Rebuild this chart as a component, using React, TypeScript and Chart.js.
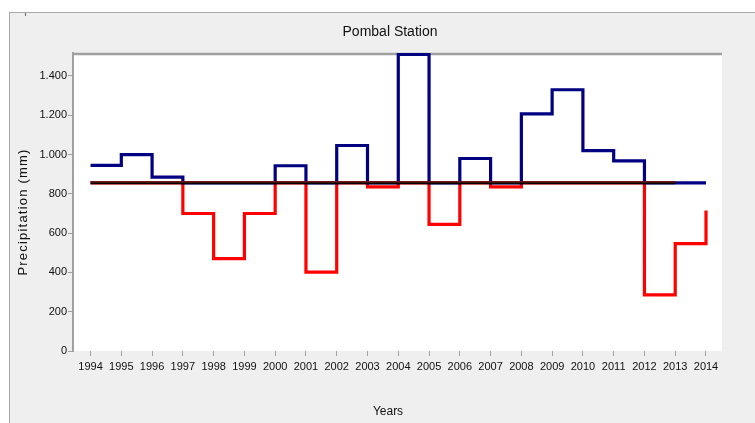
import React, { useEffect, useRef } from "react";
import { Chart, registerables } from "chart.js";

Chart.register(...registerables);

const years = [1994, 1995, 1996, 1997, 1998, 1999, 2000, 2001, 2002, 2003, 2004, 2005, 2006, 2007, 2008, 2009, 2010, 2011, 2012, 2013, 2014];
// portion of annual precipitation above the mean (blue)
const aboveMean = [945, 1000, 885, 856, 856, 856, 943, 856, 1046, 856, 1510, 856, 980, 856, 1207, 1330, 1020, 968, 856, 856, 856];
// portion of annual precipitation below the mean (red)
const belowMean = [856, 856, 856, 700, 470, 700, 856, 402, 856, 836, 856, 645, 856, 836, 856, 856, 856, 856, 286, 547, 715];
const meanYears = [1994, 2013];
const meanValues = [856, 856];
const meanRefValues = [861, 861];
const yTicks = [0, 200, 400, 600, 800, 1000, 1200, 1400];

const TITLE = "Pombal Station";
const Y_TITLE = "Precipitation (mm)";
const X_TITLE = "Years";

const fmt = (v: number) => {
  if (v >= 1000) {
    const th = Math.floor(v / 1000);
    const rest = String(v % 1000).padStart(3, "0");
    return `${th}.${rest}`;
  }
  return String(v);
};

const decor = {
  id: "decor",
  beforeDraw(chart: any) {
    const { ctx, chartArea } = chart;
    ctx.save();
    ctx.fillStyle = "#ffffff";
    ctx.fillRect(chartArea.left, chartArea.top, chartArea.right - chartArea.left, chartArea.bottom - chartArea.top);
    ctx.restore();
  },
  beforeDatasetsDraw(chart: any) {
    const { ctx, chartArea } = chart;
    ctx.save();
    ctx.strokeStyle = "#a0a0a0";
    ctx.lineWidth = 2.5;
    ctx.beginPath();
    ctx.moveTo(chartArea.left, chartArea.top + 1);
    ctx.lineTo(chartArea.right, chartArea.top + 1);
    ctx.stroke();
    ctx.restore();
  },
  afterDraw(chart: any) {
    const { ctx } = chart;
    ctx.save();
    ctx.fillStyle = "#111111";
    ctx.textAlign = "center";
    ctx.textBaseline = "middle";
    ctx.font = '14px "Liberation Sans", Arial, sans-serif';
    ctx.fillText(TITLE, 390, 32);
    ctx.font = '12px "Liberation Sans", Arial, sans-serif';
    ctx.fillText(X_TITLE, 388, 412);
    ctx.translate(23, 212);
    ctx.rotate(-Math.PI / 2);
    ctx.font = '13px "Liberation Sans", Arial, sans-serif';
    try {
      (ctx as any).letterSpacing = "1.2px";
    } catch (e) {}
    ctx.fillText(Y_TITLE, 0, 0);
    ctx.restore();
  },
};

export default function App() {
  const ref = useRef<HTMLCanvasElement | null>(null);

  useEffect(() => {
    if (!ref.current) return;
    const pts = (xs: number[], ys: number[]) => xs.map((x, i) => ({ x, y: ys[i] }));
    const chart = new Chart(ref.current, {
      type: "line",
      data: {
        datasets: [
          {
            label: "Mean (ref)",
            data: pts(meanYears, meanRefValues),
            borderColor: "#8b1a1a",
            borderWidth: 1.2,
            pointRadius: 0,
          },
          {
            label: "Mean",
            data: pts(meanYears, meanValues),
            borderColor: "#000000",
            borderWidth: 3,
            pointRadius: 0,
          },
          {
            label: "Above mean",
            data: pts(years, aboveMean),
            borderColor: "#000080",
            borderWidth: 3.2,
            pointRadius: 0,
            stepped: "before",
          },
          {
            label: "Below mean",
            data: pts(years, belowMean),
            borderColor: "#ff0000",
            borderWidth: 3.2,
            pointRadius: 0,
            stepped: "before",
          },
        ],
      },
      options: {
        responsive: false,
        animation: false,
        devicePixelRatio: 1,
        layout: { padding: { left: 0, top: 53, right: 33, bottom: 0 } },
        plugins: {
          legend: { display: false },
          tooltip: { enabled: false },
          title: { display: false },
        },
        scales: {
          x: {
            type: "linear",
            min: 1993.43,
            max: 2014.52,
            afterFit: (s: any) => {
              s.height = 72;
            },
            afterBuildTicks: (s: any) => {
              s.ticks = years.map((v) => ({ value: v }));
            },
            ticks: {
              includeBounds: false,
              autoSkip: false,
              maxRotation: 0,
              padding: 4,
              color: "#111111",
              font: { family: '"Liberation Sans", Arial, sans-serif', size: 11 },
              callback: (v: any) => String(v),
            },
            grid: { display: true, drawOnChartArea: false, drawTicks: true, tickLength: 5, color: "#a0a0a0" },
            border: { display: false },
          },
          y: {
            type: "linear",
            min: 0,
            max: 1517,
            afterFit: (s: any) => {
              s.width = 73;
            },
            afterBuildTicks: (s: any) => {
              s.ticks = yTicks.map((v) => ({ value: v }));
            },
            ticks: {
              includeBounds: false,
              padding: 1,
              color: "#111111",
              font: { family: '"Liberation Sans", Arial, sans-serif', size: 11 },
              callback: (v: any) => fmt(Number(v)),
            },
            grid: { display: true, drawOnChartArea: false, drawTicks: true, tickLength: 5, color: "#a0a0a0" },
            border: { display: true, color: "#a0a0a0", width: 2 },
          },
        },
      },
      plugins: [decor],
    });
    return () => chart.destroy();
  }, []);

  return (
    <div style={{ position: "fixed", left: 0, top: 0, width: 755, height: 423, background: "#ffffff", overflow: "hidden" }}>
      <div
        style={{
          position: "absolute",
          left: 9,
          top: 12,
          width: 800,
          height: 500,
          background: "#efefef",
          border: "1px solid #a8a8a8",
        }}
      />
      <div style={{ position: "absolute", left: 25, top: 13, width: 1, height: 3, background: "#666" }} />
      <canvas ref={ref} width={755} height={423} style={{ position: "absolute", left: 0, top: 0 }} />
    </div>
  );
}
